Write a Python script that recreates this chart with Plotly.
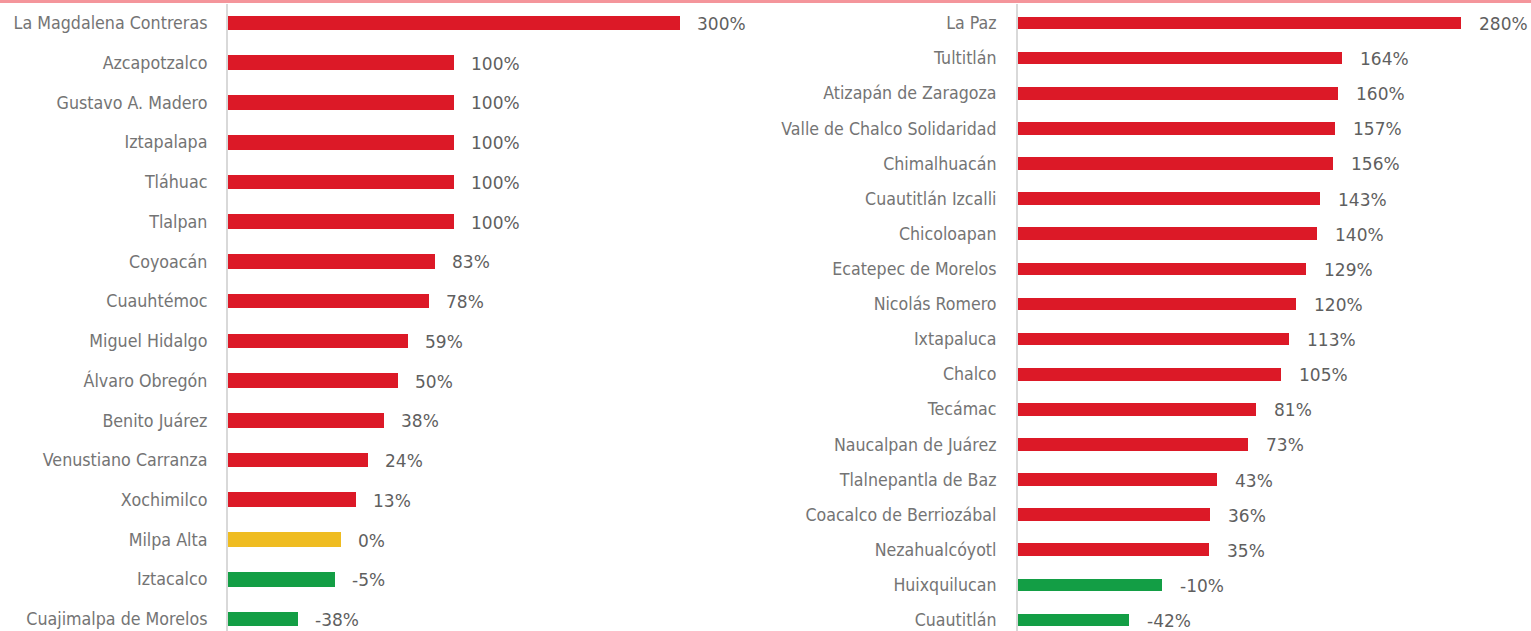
import plotly.graph_objects as go

# ---------------- data ----------------
left_cats = ["La Magdalena Contreras", "Azcapotzalco", "Gustavo A. Madero", "Iztapalapa",
             "Tláhuac", "Tlalpan", "Coyoacán", "Cuauhtémoc", "Miguel Hidalgo",
             "Álvaro Obregón", "Benito Juárez", "Venustiano Carranza", "Xochimilco",
             "Milpa Alta", "Iztacalco", "Cuajimalpa de Morelos"]
left_vals = [300, 100, 100, 100, 100, 100, 83, 78, 59, 50, 38, 24, 13, 0, -5, -38]

right_cats = ["La Paz", "Tultitlán", "Atizapán de Zaragoza", "Valle de Chalco Solidaridad",
              "Chimalhuacán", "Cuautitlán Izcalli", "Chicoloapan", "Ecatepec de Morelos",
              "Nicolás Romero", "Ixtapaluca", "Chalco", "Tecámac", "Naucalpan de Juárez",
              "Tlalnepantla de Baz", "Coacalco de Berriozábal", "Nezahualcóyotl",
              "Huixquilucan", "Cuautitlán"]
right_vals = [280, 164, 160, 157, 156, 143, 140, 129, 120, 113, 105, 81, 73, 43, 36, 35, -10, -42]

left_base = -100
right_base = -150

# ---------------- style ----------------
W, H = 1531, 631
RED, YELLOW, GREEN = "#dc1927", "#efbc21", "#139e45"
LABEL_FONT = "DejaVu Sans Condensed, DejaVu Sans, sans-serif"
VALUE_FONT = "DejaVu Sans, sans-serif"


def color_for(v):
    if v > 0:
        return RED
    if v == 0:
        return YELLOW
    return GREEN


fig = go.Figure()

fig.add_trace(go.Bar(
    y=left_cats, x=[v - left_base for v in left_vals], base=left_base,
    orientation="h", width=0.37,
    marker=dict(color=[color_for(v) for v in left_vals], line=dict(width=0)),
    xaxis="x", yaxis="y", showlegend=False, hoverinfo="skip"))

fig.add_trace(go.Bar(
    y=right_cats, x=[v - right_base for v in right_vals], base=right_base,
    orientation="h", width=0.36,
    marker=dict(color=[color_for(v) for v in right_vals], line=dict(width=0)),
    xaxis="x2", yaxis="y2", showlegend=False, hoverinfo="skip"))

annotations = []
for c, v in zip(left_cats, left_vals):
    annotations.append(dict(x=v, y=c, xref="x", yref="y", text=f"{v}%", showarrow=False,
                            xanchor="left", xshift=15, yshift=-1,
                            font=dict(family=VALUE_FONT, size=17, color="#5f5f5f")))
for c, v in zip(right_cats, right_vals):
    annotations.append(dict(x=v, y=c, xref="x2", yref="y2", text=f"{v}%", showarrow=False,
                            xanchor="left", xshift=16, yshift=-1,
                            font=dict(family=VALUE_FONT, size=17, color="#5f5f5f")))

top = 1 - 4 / H
lx0 = 228 / W
lx1 = 780 / W
rx0 = 1018 / W
rx1 = 1.0
lscale = 1.13   # px per %
rscale = 1.031

fig.update_layout(
    width=W, height=H,
    margin=dict(l=0, r=0, t=0, b=0, autoexpand=False),
    paper_bgcolor="white", plot_bgcolor="white",
    bargap=0,
    annotations=annotations,
    xaxis=dict(domain=[lx0, lx1], range=[left_base, left_base + (lx1 - lx0) * W / lscale],
               visible=False, fixedrange=True, automargin=False),
    xaxis2=dict(domain=[rx0, rx1], range=[right_base, right_base + (rx1 - rx0) * W / rscale],
                visible=False, fixedrange=True, automargin=False),
    yaxis=dict(domain=[0, top], anchor="x", type="category", automargin=False,
               range=[len(left_cats) - 1 + 12 / 39.73, -19 / 39.73],
               showline=True, linecolor="#d9d9d9", linewidth=2,
               showgrid=False, zeroline=False, ticks="", ticklabelstandoff=15,
               tickfont=dict(family=LABEL_FONT, size=17.7, color="#747474")),
    yaxis2=dict(domain=[0, top], anchor="x2", type="category", automargin=False,
                range=[len(right_cats) - 1 + 11 / 35.12, -19 / 35.12],
                showline=True, linecolor="#d9d9d9", linewidth=2,
                showgrid=False, zeroline=False, ticks="", ticklabelstandoff=16,
                tickfont=dict(family=LABEL_FONT, size=17.6, color="#747474")),
    shapes=[dict(type="rect", xref="paper", yref="paper", x0=0, x1=1,
                 y0=1 - 3 / H, y1=1, fillcolor="#f4959b", line=dict(width=0), layer="above")],
)

fig.write_html("out.html", config={"displayModeBar": False},
               post_script="document.body.style.margin='0';document.body.style.overflow='hidden';")
